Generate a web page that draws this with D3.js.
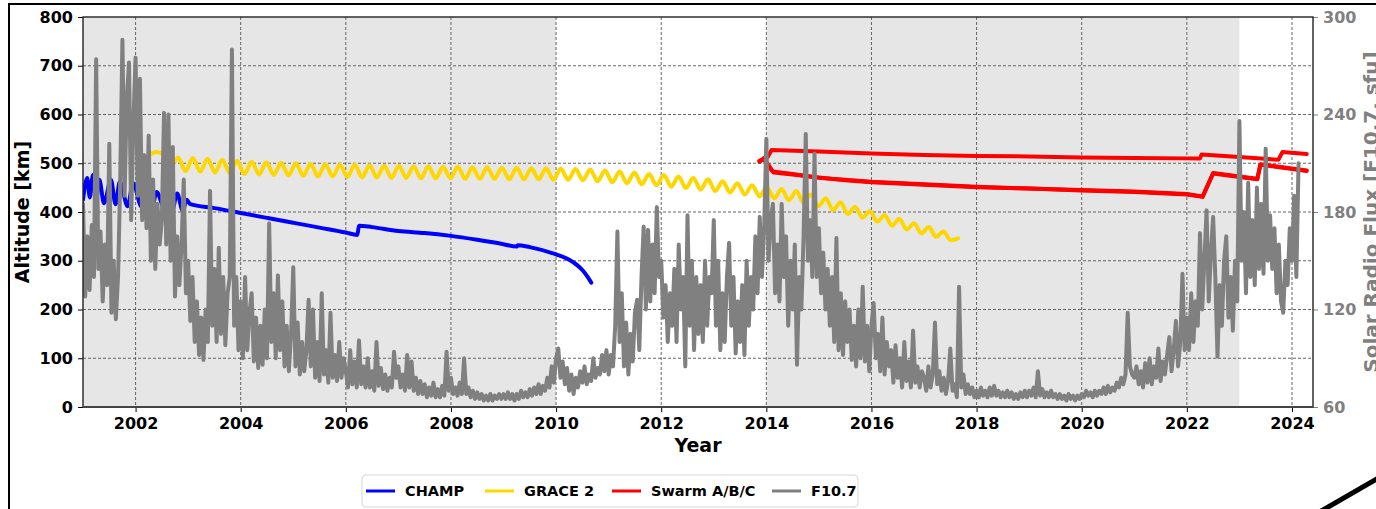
<!DOCTYPE html>
<html>
<head>
<meta charset="utf-8">
<script src="https://cdn.jsdelivr.net/npm/d3@7"></script>
<style>
  html, body { margin: 0; padding: 0; background: #fff; overflow: hidden; }
  svg { display: block; font-family: "DejaVu Sans", sans-serif; }
</style>
</head>
<body>
<svg id="chart" width="1376" height="509"></svg>
<script>
// ---- Data -----------------------------------------------------------------

const yearTicks = [2002, 2004, 2006, 2008, 2010, 2012, 2014, 2016, 2018, 2020, 2022, 2024];
const altitudeTicks = [0, 100, 200, 300, 400, 500, 600, 700, 800];
const fluxTicks = [60, 120, 180, 240, 300];

// Periods shaded in light grey: [start, end] in decimal years
const shadedPeriods = [[2001.0, 2010.0], [2014.0, 2023.0]];

// CHAMP altitude [km]: decimal year / km
const champYears = [2001.00, 2001.08, 2001.13, 2001.19, 2001.25, 2001.31, 2001.40, 2001.53, 2001.62, 2001.70,
  2001.85, 2001.95, 2002.12, 2002.22, 2002.30, 2002.40, 2002.55, 2002.62, 2002.70, 2002.79,
  2002.90, 2002.97, 2003.04, 2003.50, 2004.00, 2004.50, 2005.00, 2005.50, 2006.00, 2006.22,
  2006.25, 2006.50, 2007.00, 2007.50, 2008.00, 2008.50, 2009.00, 2009.25, 2009.27, 2009.50,
  2010.00, 2010.25, 2010.40, 2010.50, 2010.60, 2010.67];
const champAlt = [425, 470, 430, 476, 428, 466, 418, 466, 416, 462,
  412, 459, 410, 442, 400, 441, 408, 430, 405, 438,
  402, 425, 416, 408, 398, 388, 378, 368, 358, 353,
  372, 369, 361, 357, 351, 343, 334, 329, 332, 328,
  313, 302, 291, 281, 267, 255];

// GRACE 2 altitude [km], sampled at every half oscillation from graceStart
const graceStart = 2002.25;
const graceStep = 0.14;
const graceAlt = [516, 523, 518, 494, 512, 484, 511, 483, 509, 481,
  507, 480, 505, 478, 503, 477, 502, 476, 501, 475,
  500, 474, 499, 473, 498, 473, 497, 472, 497, 471,
  496, 471, 495, 470, 495, 470, 494, 469, 494, 469,
  493, 469, 493, 468, 492, 468, 492, 468, 491, 467,
  491, 467, 490, 467, 490, 466, 489, 466, 488, 465,
  487, 463, 485, 461, 483, 459, 481, 457, 478, 455,
  476, 452, 473, 449, 470, 446, 467, 443, 463, 440,
  459, 436, 455, 432, 451, 428, 447, 424, 443, 419,
  436, 412, 428, 404, 420, 396, 411, 388, 402, 380,
  394, 372, 386, 364, 377, 356, 369, 349, 360, 342,
  346];

// Swarm A, B and C altitude [km]
const swarmAYears = [2013.87, 2013.95, 2014.05, 2014.12, 2014.50, 2015.00, 2015.50, 2016.00, 2017.00, 2018.00,
  2019.00, 2020.00, 2021.00, 2022.00, 2022.30, 2022.50, 2023.00, 2023.34, 2023.40, 2024.28];
const swarmAAlt = [505, 508, 495, 483, 478, 470, 466, 462, 457, 452,
  448, 445, 442, 437, 432, 480, 473, 468, 498, 485];

const swarmBYears = [2013.87, 2013.95, 2014.02, 2014.10, 2015.00, 2016.00, 2017.00, 2018.00, 2019.00, 2020.00,
  2021.00, 2022.00, 2022.25, 2022.28, 2023.00, 2023.74, 2023.82, 2024.28];
const swarmBAlt = [505, 508, 512, 527, 524, 520, 517, 515, 514, 512,
  511, 510, 510, 518, 513, 507, 523, 519];

const swarmCYears = [2013.87, 2013.96, 2014.06, 2014.14, 2014.50, 2015.00, 2015.50, 2016.00, 2017.00, 2018.00,
  2019.00, 2020.00, 2021.00, 2022.00, 2022.30, 2022.50, 2023.00, 2023.34, 2023.40, 2024.28];
const swarmCAlt = [503, 511, 491, 481, 477, 471, 465, 461, 456, 451,
  448, 444, 441, 436, 431, 479, 472, 467, 497, 484];

// F10.7 solar radio flux [sfu], 24 samples per year starting at 2001.0
const fluxStart = 2001.0;
const fluxPerYear = 24;
const fluxValues = [
  /* 2001 */ 185, 128, 165, 132, 172, 140, 274, 145, 168, 125, 160, 135, 222, 118, 150, 114, 140, 200, 286, 190, 250, 272, 175, 235,
  /* 2002 */ 275, 190, 262, 175, 215, 170, 227, 150, 200, 145, 185, 160, 175, 241, 160, 240, 150, 220, 128, 165, 135, 160, 200, 130,
  /* 2003 */ 150, 113, 140, 100, 125, 92, 115, 89, 120, 100, 193, 110, 145, 100, 158, 105, 140, 98, 130, 140, 280, 110, 140, 95,
  /* 2004 */ 125, 90, 140, 95, 118, 130, 88, 115, 84, 110, 86, 120, 90, 173, 100, 130, 90, 141, 95, 125, 85, 110, 82, 105,
  /* 2005 */ 146, 85, 112, 80, 100, 82, 95, 126, 85, 120, 78, 100, 76, 130, 80, 95, 75, 118, 78, 92, 76, 100, 78, 90,
  /* 2006 */ 82, 72, 95, 74, 88, 72, 101, 74, 85, 72, 90, 72, 82, 70, 100, 73, 84, 71, 80, 70, 78, 72, 94, 78,
  /* 2007 */ 85, 72, 80, 70, 92, 72, 88, 70, 78, 68, 76, 68, 74, 66, 72, 67, 75, 66, 71, 66, 73, 67, 94, 70,
  /* 2008 */ 78, 68, 72, 67, 75, 68, 90, 68, 72, 66, 70, 65, 69, 65, 68, 64, 67, 64, 68, 64, 67, 65, 68, 65,
  /* 2009 */ 68, 65, 69, 65, 68, 64, 68, 65, 70, 66, 69, 66, 71, 67, 72, 68, 74, 68, 73, 70, 78, 72, 85, 75,
  /* 2010 */ 90, 96, 78, 88, 74, 84, 70, 80, 68, 78, 72, 82, 75, 85, 74, 80, 76, 90, 78, 84, 80, 92, 82, 95,
  /* 2011 */ 80, 92, 85, 110, 168, 100, 130, 85, 112, 80, 105, 88, 118, 126, 95, 140, 171, 120, 169, 125, 160, 130, 183, 140,
  /* 2012 */ 150, 115, 135, 100, 130, 110, 145, 100, 160, 120, 140, 85, 178, 110, 150, 95, 140, 105, 135, 100, 150, 110, 140, 130,
  /* 2013 */ 175, 110, 150, 95, 130, 100, 140, 161, 110, 140, 93, 125, 100, 135, 92, 150, 110, 140, 120, 165, 130, 177, 140, 170,
  /* 2014 */ 225, 150, 175, 185, 130, 160, 125, 185, 140, 165, 110, 150, 120, 160, 86, 140, 120, 165, 228, 150, 175, 140, 216, 140,
  /* 2015 */ 170, 130, 155, 120, 145, 110, 140, 100, 164, 95, 130, 92, 125, 100, 120, 89, 110, 85, 120, 90, 134, 88, 110, 82,
  /* 2016 */ 110, 124, 90, 105, 82, 115, 80, 100, 85, 95, 75, 98, 78, 90, 72, 100, 76, 88, 72, 107, 75, 85, 72, 82,
  /* 2017 */ 78, 70, 85, 72, 80, 112, 74, 82, 70, 78, 68, 76, 96, 70, 74, 66, 134, 72, 80, 68, 74, 68, 72, 66,
  /* 2018 */ 70, 66, 72, 67, 70, 66, 72, 67, 73, 67, 70, 66, 69, 66, 70, 66, 69, 65, 68, 65, 69, 66, 70, 66,
  /* 2019 */ 70, 67, 72, 66, 82, 67, 71, 66, 69, 66, 70, 66, 68, 65, 68, 65, 67, 64, 68, 65, 67, 64, 67, 65,
  /* 2020 */ 68, 66, 70, 67, 69, 66, 70, 67, 70, 68, 72, 68, 73, 69, 72, 70, 75, 72, 78, 74, 80, 118, 85, 80,
  /* 2021 */ 78, 85, 74, 82, 72, 87, 75, 90, 74, 85, 78, 96, 76, 88, 80, 92, 103, 82, 95, 113, 85, 100, 142, 95,
  /* 2022 */ 115, 95, 130, 100, 125, 110, 167, 120, 150, 181, 125, 155, 177, 140, 91, 135, 110, 150, 165, 115, 140, 107, 150, 125,
  /* 2023 */ 236, 150, 180, 130, 198, 140, 175, 135, 195, 145, 185, 142, 219, 150, 178, 145, 170, 130, 160, 125, 118, 150, 135, 170,
  /* 2024 */ 150, 190, 140, 210
];

const legendItems = [
  { label: "CHAMP", color: "#0000ff" },
  { label: "GRACE 2", color: "#ffd700" },
  { label: "Swarm A/B/C", color: "#ff0000" },
  { label: "F10.7", color: "#808080" }
];

// ---- Layout & scales -------------------------------------------------------

const plot = { left: 83, right: 1313, top: 17, bottom: 407 };
const svg = d3.select("#chart");

const x = d3.scaleLinear().domain([2001.0, 2024.4]).range([plot.left, plot.right]);
const yAlt = d3.scaleLinear().domain([0, 800]).range([plot.bottom, plot.top]);
const yFlux = d3.scaleLinear().domain([60, 300]).range([plot.bottom, plot.top]);

svg.append("defs").append("clipPath").attr("id", "plotClip")
  .append("rect")
  .attr("x", plot.left).attr("y", plot.top)
  .attr("width", plot.right - plot.left).attr("height", plot.bottom - plot.top);

// Outer frame
svg.append("path")
  .attr("d", "M9,520 L9,4 L1376,4")
  .attr("fill", "none").attr("stroke", "#000").attr("stroke-width", 2);
svg.append("line")
  .attr("x1", 1316).attr("y1", 514).attr("x2", 1382).attr("y2", 476)
  .attr("stroke", "#000").attr("stroke-width", 5);

// Shaded periods
svg.append("g").selectAll("rect").data(shadedPeriods).join("rect")
  .attr("x", d => x(d[0]))
  .attr("y", plot.top)
  .attr("width", d => x(d[1]) - x(d[0]))
  .attr("height", plot.bottom - plot.top)
  .attr("fill", "#e6e6e6");

// Grid
const grid = svg.append("g").attr("stroke", "#555").attr("stroke-width", 0.9)
  .attr("stroke-dasharray", "3,2");
grid.selectAll("line.gx").data(yearTicks).join("line").attr("class", "gx")
  .attr("x1", d => x(d)).attr("x2", d => x(d))
  .attr("y1", plot.top).attr("y2", plot.bottom);
grid.selectAll("line.gy").data(altitudeTicks.slice(1, -1)).join("line").attr("class", "gy")
  .attr("x1", plot.left).attr("x2", plot.right)
  .attr("y1", d => yAlt(d)).attr("y2", d => yAlt(d));

// ---- Series ---------------------------------------------------------------

const series = svg.append("g").attr("clip-path", "url(#plotClip)")
  .attr("fill", "none").attr("stroke-linejoin", "round").attr("stroke-linecap", "round");

const altLine = d3.line().x(d => x(d[0])).y(d => yAlt(d[1]));
const smoothAltLine = d3.line().x(d => x(d[0])).y(d => yAlt(d[1])).curve(d3.curveMonotoneX);

const champData = champYears.map((t, i) => [t, champAlt[i]]);
series.append("path").datum(champData)
  .attr("d", smoothAltLine).attr("stroke", "#0000ff").attr("stroke-width", 4);

const graceData = graceAlt.map((v, i) => [graceStart + i * graceStep, v]);
series.append("path").datum(graceData)
  .attr("d", smoothAltLine).attr("stroke", "#ffd700").attr("stroke-width", 4);

[[swarmAYears, swarmAAlt], [swarmBYears, swarmBAlt], [swarmCYears, swarmCAlt]].forEach(([ts, vs]) => {
  series.append("path").datum(ts.map((t, i) => [t, vs[i]]))
    .attr("d", altLine).attr("stroke", "#ff0000").attr("stroke-width", 4);
});

const fluxData = fluxValues.map((v, i) => [fluxStart + i / fluxPerYear, v]);
series.append("path").datum(fluxData)
  .attr("d", d3.line().x(d => x(d[0])).y(d => yFlux(d[1])))
  .attr("stroke", "#808080").attr("stroke-width", 4);

// ---- Axes -------------------------------------------------------------------

const tickFont = g => g.selectAll("text")
  .attr("font-family", "DejaVu Sans, sans-serif")
  .attr("font-size", 16).attr("font-weight", "bold");

const axL = svg.append("g").attr("transform", `translate(${plot.left},0)`)
  .call(d3.axisLeft(yAlt).tickValues(altitudeTicks).tickSize(5).tickPadding(5).tickFormat(d3.format("d")))
  .call(tickFont);
axL.selectAll("text").attr("fill", "#000");

const axB = svg.append("g").attr("transform", `translate(0,${plot.bottom})`)
  .call(d3.axisBottom(x).tickValues(yearTicks).tickSize(5).tickPadding(6).tickFormat(d3.format("d")))
  .call(tickFont);
axB.selectAll("text").attr("fill", "#000");

const axR = svg.append("g").attr("transform", `translate(${plot.right},0)`)
  .call(d3.axisRight(yFlux).tickValues(fluxTicks).tickSize(5).tickPadding(5).tickFormat(d3.format("d")))
  .call(tickFont);
axR.selectAll("text").attr("fill", "#808080");
axR.selectAll(".tick line").attr("stroke", "#808080");
axR.select(".domain").remove();
axL.select(".domain").remove();
axB.select(".domain").remove();

// Spines
svg.append("rect")
  .attr("x", plot.left).attr("y", plot.top)
  .attr("width", plot.right - plot.left).attr("height", plot.bottom - plot.top)
  .attr("fill", "none").attr("stroke", "#222").attr("stroke-width", 1.4);
svg.append("line")
  .attr("x1", plot.left).attr("x2", plot.right)
  .attr("y1", plot.bottom).attr("y2", plot.bottom)
  .attr("stroke", "#444").attr("stroke-width", 2.2);

// Axis titles
svg.append("text")
  .attr("transform", `translate(29,${(plot.top + plot.bottom) / 2}) rotate(-90)`)
  .attr("text-anchor", "middle").attr("font-size", 19).attr("font-weight", "bold")
  .attr("fill", "#000").text("Altitude [km]");
svg.append("text")
  .attr("x", (plot.left + plot.right) / 2).attr("y", 452)
  .attr("text-anchor", "middle").attr("font-size", 19).attr("font-weight", "bold")
  .attr("fill", "#000").text("Year");
svg.append("text")
  .attr("transform", `translate(1378,${(plot.top + plot.bottom) / 2}) rotate(-90)`)
  .attr("text-anchor", "middle").attr("font-size", 20).attr("font-weight", "bold")
  .attr("fill", "#808080").text("Solar Radio Flux [F10.7, sfu]");

// ---- Legend -----------------------------------------------------------------

const legend = svg.append("g").attr("transform", "translate(362,475)");
legend.append("rect")
  .attr("width", 496).attr("height", 32).attr("rx", 4)
  .attr("fill", "#fff").attr("stroke", "#d6d6d6").attr("stroke-width", 1);
const legendX = [4, 123, 250, 410];
legendItems.forEach((item, i) => {
  const g = legend.append("g").attr("transform", `translate(${legendX[i]},16)`);
  g.append("line").attr("x1", 0).attr("x2", 29).attr("y1", 0).attr("y2", 0)
    .attr("stroke", item.color).attr("stroke-width", 3);
  g.append("text").attr("x", 39).attr("y", 0).attr("dy", "0.36em")
    .attr("font-size", 14.5).attr("font-weight", "bold").attr("fill", "#000")
    .text(item.label);
});
</script>
</body>
</html>
